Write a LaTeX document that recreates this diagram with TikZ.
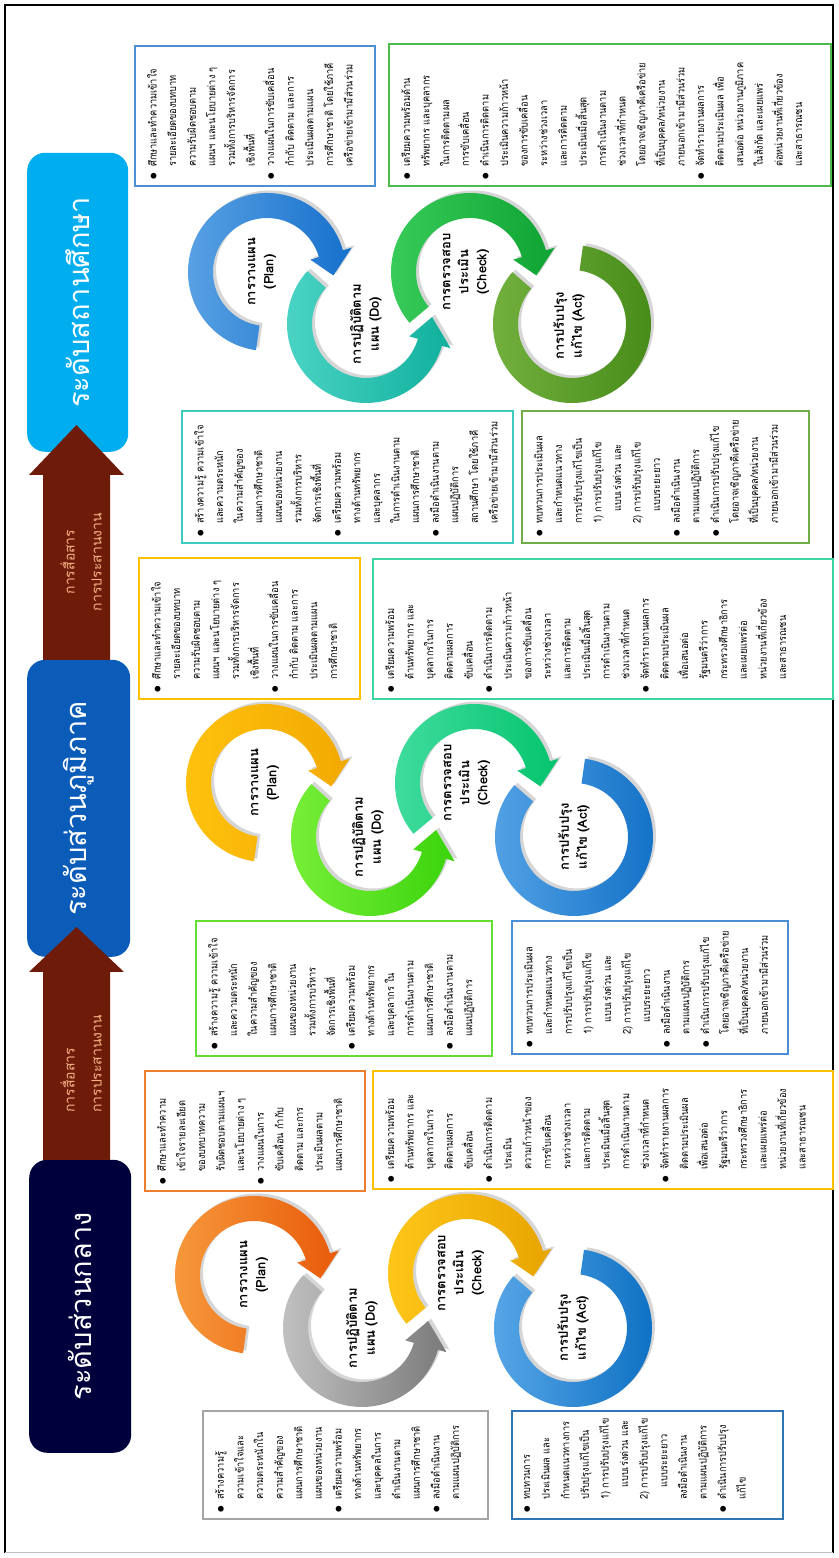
\documentclass[tikz,border=0pt]{standalone}
\usepackage{fontspec}
\setmainfont{Liberation Sans}
\newfontfamily\thai[Script=Thai]{Loma}
\newfontfamily\thainarrow[Script=Thai,FakeStretch=0.88]{Loma}
\newfontfamily\dejavu{DejaVu Sans}
\definecolor{navyH}{HTML}{00003D}
\definecolor{blueH}{HTML}{0B5CB8}
\definecolor{skyH}{HTML}{00AEEF}
\definecolor{maroonA}{HTML}{6E1B09}
\definecolor{peach}{HTML}{F4B183}
\definecolor{bGray}{HTML}{A5A5A5}
\definecolor{bBlue}{HTML}{2E75B6}
\definecolor{bOrange}{HTML}{ED7D31}
\definecolor{bGold}{HTML}{FFC000}
\definecolor{bLime}{HTML}{66DD33}
\definecolor{bBlueB}{HTML}{4A8FD6}
\definecolor{bMint}{HTML}{3DD6A0}
\definecolor{bTeal}{HTML}{3CCBBE}
\definecolor{bGreen}{HTML}{70AD47}
\definecolor{bBlueC}{HTML}{4A90D2}
\definecolor{bGreenB}{HTML}{4CBB4C}
\tikzset{
  box/.style={draw=#1, line width=1.6pt, fill=white, inner sep=0pt, anchor=north west},
  btxt/.style={anchor=north west, align=left, inner sep=0pt, font=\thainarrow\fontsize{10.5}{19.6}\selectfont},
  ringlbl/.style={align=center, inner sep=0pt, font=\thai\bfseries\fontsize{13}{18}\selectfont},
  hdr/.style={rounded corners=18pt, inner sep=0pt, anchor=north west},
  hdrtxt/.style={text=white, inner sep=0pt, font=\thai\fontsize{29}{32}\selectfont},
  arrtxt/.style={text=peach, inner sep=0pt, font=\thai\fontsize{14}{27}\selectfont},
  arrbody/.style={fill=maroonA}
}
\newcommand\bul{\makebox[13pt][l]{\raisebox{1pt}{\dejavu\fontsize{7.5}{8}\selectfont ●}}}
\newcommand\ind{\hspace*{13pt}}
\newcommand\indd{\hspace*{25pt}}
% ring with arrow head: cx, cy, start, band end, tip
\newcommand\rapath[5]{([shift={(#1,-#2)}]#3:79pt) arc[start angle=#3, end angle=#4, radius=79pt]
 -- ([shift={(#1,-#2)}]#4:88pt) -- ([shift={(#1,-#2)}]#5:66.5pt)
 -- ([shift={(#1,-#2)}]#4:45pt) -- ([shift={(#1,-#2)}]#4:54pt)
 arc[start angle=#4, end angle=#3, radius=54pt] -- cycle}
\newcommand\ringarrow[7]{%
 \definecolor{rcA}{HTML}{#6}\definecolor{rcB}{HTML}{#7}%
 \fill[black, opacity=.16, shift={(2.5,-3)}] \rapath{#1}{#2}{#3}{#4}{#5};
 \shade[left color=rcA, right color=rcB] \rapath{#1}{#2}{#3}{#4}{#5};}
\newcommand\rbpath[4]{([shift={(#1,-#2)}]#3:79pt) arc[start angle=#3, end angle=#4, radius=79pt]
 -- ([shift={(#1,-#2)}]#4:54pt) arc[start angle=#4, end angle=#3, radius=54pt] -- cycle}
\newcommand\ringplain[6]{%
 \definecolor{rcA}{HTML}{#5}\definecolor{rcB}{HTML}{#6}%
 \fill[black, opacity=.16, shift={(2.5,-3)}] \rbpath{#1}{#2}{#3}{#4};
 \shade[left color=rcA, right color=rcB] \rbpath{#1}{#2}{#3}{#4};}
\begin{document}
\begin{tikzpicture}[x=1pt,y=1pt]
\begin{scope}[rotate=90, transform shape]
\useasboundingbox (0,0) rectangle (1558,-838);
\fill[white] (0,0) rectangle (1558,-838);
% frame
\draw[line width=1.5pt] (5,-5) -- (1553,-5) -- (1553,-833) -- (5,-833);
\draw[line width=1pt, black!25] (5,-5) -- (5,-833);

% headers
\node[hdr, fill=navyH, minimum width=293pt, minimum height=102pt] (h1) at (105,-29) {};
\node[hdrtxt] (h1t) at (h1.center) {ระดับส่วนกลาง};
\node[hdr, fill=blueH, minimum width=297pt, minimum height=103pt] (h2) at (601,-27) {};
\node[hdrtxt] (h2t) at (h2.center) {ระดับส่วนภูมิภาค};
\node[hdr, fill=skyH, minimum width=299pt, minimum height=101pt] (h3) at (1106,-27) {};
\node[hdrtxt] (h3t) at (h3.center) {ระดับสถานศึกษา};

% block arrows
\fill[arrbody] (398,-43) -- (586,-43) -- (586,-29) -- (631,-76.5) -- (586,-124) -- (586,-110) -- (398,-110) -- cycle;
\node[arrtxt, align=left, anchor=west] (a1t) at (445,-81) {การสื่อสาร\\การประสานงาน};
\fill[arrbody] (898,-43) -- (1083,-43) -- (1083,-29) -- (1133,-76.5) -- (1083,-124) -- (1083,-110) -- (898,-110) -- cycle;
\node[arrtxt, align=center] (a2t) at (996,-81) {การสื่อสาร\\การประสานงาน};

% ---------- left section rings
\ringplain{230}{573}{49}{352}{5AA8E8}{0B6FC2}
\ringarrow{285}{467}{130}{-74}{-93}{FFC81A}{E8A400}
\ringarrow{230}{362}{48}{254}{276}{C4C4C4}{7A7A7A}
\ringarrow{283}{254}{172}{-74}{-93}{F79A3C}{E85A0A}
\node[ringlbl] (l1) at (283,-254) {การวางแผน\\(Plan)};
\node[ringlbl] (l2) at (230,-362) {การปฏิบัติตาม\\แผน (Do)};
\node[ringlbl] (l3) at (285,-461) {การตรวจสอบ\\ประเมิน\\(Check)};
\node[ringlbl] (l4) at (230,-573) {การปรับปรุง\\แก้ไข (Act)};

% ---------- middle section rings
\ringplain{721}{574}{49}{352}{55A3E6}{1170C6}
\ringarrow{775}{474}{130}{-74}{-93}{42DDA0}{05C46E}
\ringarrow{721}{370}{48}{254}{276}{7AF03A}{3AD40C}
\ringarrow{775}{265}{172}{-74}{-93}{FFC20E}{F2A900}
\node[ringlbl] (m1) at (775,-265) {การวางแผน\\(Plan)};
\node[ringlbl] (m2) at (721,-368) {การปฏิบัติตาม\\แผน (Do)};
\node[ringlbl] (m3) at (775,-467) {การตรวจสอบ\\ประเมิน\\(Check)};
\node[ringlbl] (m4) at (721,-574) {การปรับปรุง\\แก้ไข (Act)};

% ---------- right section rings
\ringplain{1234}{572}{49}{352}{74B23F}{468A18}
\ringarrow{1286}{470}{130}{-74}{-93}{3ACD5C}{0EA332}
\ringarrow{1234}{366}{48}{254}{276}{4DD5C6}{10B09D}
\ringarrow{1286}{267}{172}{-74}{-93}{5AA2E4}{1670CC}
\node[ringlbl] (r1) at (1286,-262) {การวางแผน\\(Plan)};
\node[ringlbl] (r2) at (1234,-366) {การปฏิบัติตาม\\แผน (Do)};
\node[ringlbl] (r3) at (1286,-466) {การตรวจสอบ\\ประเมิน\\(Check)};
\node[ringlbl] (r4) at (1232,-569) {การปรับปรุง\\แก้ไข (Act)};

% ---------- boxes, left section
\node[box=bGray, minimum width=108pt, minimum height=285pt] (b1) at (38,-202) {};
\node[btxt] (t1) at (45,-215) {\bul สร้างความรู้\\
\ind ความเข้าใจและ\\
\ind ความตระหนักใน\\
\ind ความสำคัญของ\\
\ind แผนการศึกษาชาติ\\
\ind แผนของหน่วยงาน\\
\bul เตรียมความพร้อม\\
\ind ทางด้านทรัพยากร\\
\ind และบุคคลในการ\\
\ind ดำเนินงานตาม\\
\ind แผนการศึกษาชาติ\\
\bul ลงมือดำเนินงาน\\
\ind ตามแผนปฏิบัติการ};

\node[box=bBlue, minimum width=108pt, minimum height=271pt] (b2) at (38,-511) {};
\node[btxt] (t2) at (45,-524) {\bul ทบทวนการ\\
\ind ประเมินผล และ\\
\ind กำหนดแนวทางการ\\
\ind ปรับปรุงแก้ไขเป็น\\
\ind 1) การปรับปรุงแก้ไข\\
\indd แบบเร่งด่วน และ\\
\ind 2) การปรับปรุงแก้ไข\\
\indd แบบระยะยาว\\
\ind ลงมือดำเนินงาน\\
\ind ตามแผนปฏิบัติการ\\
\bul ดำเนินการปรับปรุง\\
\ind แก้ไข};

\node[box=bOrange, minimum width=120pt, minimum height=220pt] (b3) at (366,-144) {};
\node[btxt] (t3) at (373,-157) {\bul ศึกษาและทำความ\\
\ind เข้าใจรายละเอียด\\
\ind ของบทบาทความ\\
\ind รับผิดชอบตามแผนฯ\\
\ind และนโยบายต่าง ๆ\\
\bul วางแผนในการ\\
\ind ขับเคลื่อน กำกับ\\
\ind ติดตาม และการ\\
\ind ประเมินผลตาม\\
\ind แผนการศึกษาชาติ};

\node[box=bGold, minimum width=118pt, minimum height=460pt] (b4) at (368,-372) {};
\node[btxt] (t4) at (375,-385) {\bul เตรียมความพร้อม\\
\ind ด้านทรัพยากร และ\\
\ind บุคลากรในการ\\
\ind ติดตามผลการ\\
\ind ขับเคลื่อน\\
\bul ดำเนินการติดตาม\\
\ind ประเมิน\\
\ind ความก้าวหน้าของ\\
\ind การขับเคลื่อน\\
\ind ระหว่างช่วงเวลา\\
\ind และการติดตาม\\
\ind ประเมินเมื่อสิ้นสุด\\
\ind การดำเนินงานตาม\\
\ind ช่วงเวลาที่กำหนด\\
\bul จัดทำรายงานผลการ\\
\ind ติดตามประเมินผล\\
\ind เพื่อเสนอต่อ\\
\ind รัฐมนตรีว่าการ\\
\ind กระทรวงศึกษาธิการ\\
\ind และเผยแพร่ต่อ\\
\ind หน่วยงานที่เกี่ยวข้อง\\
\ind และสาธารณชน};

% ---------- boxes, middle section
\node[box=bLime, minimum width=135pt, minimum height=296pt] (b5) at (501,-195) {};
\node[btxt] (t5) at (508,-208) {\bul สร้างความรู้ ความเข้าใจ\\
\ind และความตระหนัก\\
\ind ในความสำคัญของ\\
\ind แผนการศึกษาชาติ\\
\ind แผนของหน่วยงาน\\
\ind รวมทั้งการบริหาร\\
\ind จัดการเชิงพื้นที่\\
\bul เตรียมความพร้อม\\
\ind ทางด้านทรัพยากร\\
\ind และบุคลากร ใน\\
\ind การดำเนินงานตาม\\
\ind แผนการศึกษาชาติ\\
\bul ลงมือดำเนินงานตาม\\
\ind แผนปฏิบัติการ};

\node[box=bBlueB, minimum width=133pt, minimum height=276pt] (b6) at (503,-511) {};
\node[btxt] (t6) at (510,-524) {\bul ทบทวนการประเมินผล\\
\ind และกำหนดแนวทาง\\
\ind การปรับปรุงแก้ไขเป็น\\
\ind 1) การปรับปรุงแก้ไข\\
\indd แบบเร่งด่วน และ\\
\ind 2) การปรับปรุงแก้ไข\\
\indd แบบระยะยาว\\
\bul ลงมือดำเนินงาน\\
\ind ตามแผนปฏิบัติการ\\
\bul ดำเนินการปรับปรุงแก้ไข\\
\ind โดยอาจเชิญภาคีเครือข่าย\\
\ind ที่เป็นบุคคล/หน่วยงาน\\
\ind ภายนอกเข้ามามีส่วนร่วม};

\node[box=bGold, minimum width=141pt, minimum height=221pt] (b7) at (858,-138) {};
\node[btxt] (t7) at (865,-151) {\bul ศึกษาและทำความเข้าใจ\\
\ind รายละเอียดของบทบาท\\
\ind ความรับผิดชอบตาม\\
\ind แผนฯ และนโยบายต่าง ๆ\\
\ind รวมทั้งการบริหารจัดการ\\
\ind เชิงพื้นที่\\
\bul วางแผนในการขับเคลื่อน\\
\ind กำกับ ติดตาม และการ\\
\ind ประเมินผลตามแผน\\
\ind การศึกษาชาติ};

\node[box=bMint, minimum width=140pt, minimum height=460pt] (b8) at (858,-372) {};
\node[btxt] (t8) at (865,-385) {\bul เตรียมความพร้อม\\
\ind ด้านทรัพยากร และ\\
\ind บุคลากรในการ\\
\ind ติดตามผลการ\\
\ind ขับเคลื่อน\\
\bul ดำเนินการติดตาม\\
\ind ประเมินความก้าวหน้า\\
\ind ของการขับเคลื่อน\\
\ind ระหว่างช่วงเวลา\\
\ind และการติดตาม\\
\ind ประเมินเมื่อสิ้นสุด\\
\ind การดำเนินงานตาม\\
\ind ช่วงเวลาที่กำหนด\\
\bul จัดทำรายงานผลการ\\
\ind ติดตามประเมินผล\\
\ind เพื่อเสนอต่อ\\
\ind รัฐมนตรีว่าการ\\
\ind กระทรวงศึกษาธิการ\\
\ind และเผยแพร่ต่อ\\
\ind หน่วยงานที่เกี่ยวข้อง\\
\ind และสาธารณชน};

% ---------- boxes, right section
\node[box=bTeal, minimum width=132pt, minimum height=331pt] (b9) at (1014,-181) {};
\node[btxt] (t9) at (1021,-194) {\bul สร้างความรู้ ความเข้าใจ\\
\ind และความตระหนัก\\
\ind ในความสำคัญของ\\
\ind แผนการศึกษาชาติ\\
\ind แผนของหน่วยงาน\\
\ind รวมทั้งการบริหาร\\
\ind จัดการเชิงพื้นที่\\
\bul เตรียมความพร้อม\\
\ind ทางด้านทรัพยากร\\
\ind และบุคลากร\\
\ind ในการดำเนินงานตาม\\
\ind แผนการศึกษาชาติ\\
\bul ลงมือดำเนินงานตาม\\
\ind แผนปฏิบัติการ\\
\ind สถานศึกษา โดยใช้ภาคี\\
\ind เครือข่ายเข้ามามีส่วนร่วม};

\node[box=bGreen, minimum width=132pt, minimum height=287pt] (b10) at (1014,-521) {};
\node[btxt] (t10) at (1021,-534) {\bul ทบทวนการประเมินผล\\
\ind และกำหนดแนวทาง\\
\ind การปรับปรุงแก้ไขเป็น\\
\ind 1) การปรับปรุงแก้ไข\\
\indd แบบเร่งด่วน และ\\
\ind 2) การปรับปรุงแก้ไข\\
\indd แบบระยะยาว\\
\bul ลงมือดำเนินงาน\\
\ind ตามแผนปฏิบัติการ\\
\bul ดำเนินการปรับปรุงแก้ไข\\
\ind โดยอาจเชิญภาคีเครือข่าย\\
\ind ที่เป็นบุคคล/หน่วยงาน\\
\ind ภายนอกเข้ามามีส่วนร่วม};

\node[box=bBlueC, minimum width=140pt, minimum height=240pt] (b11) at (1371,-134) {};
\node[btxt] (t11) at (1378,-147) {\bul ศึกษาและทำความเข้าใจ\\
\ind รายละเอียดของบทบาท\\
\ind ความรับผิดชอบตาม\\
\ind แผนฯ และนโยบายต่าง ๆ\\
\ind รวมทั้งการบริหารจัดการ\\
\ind เชิงพื้นที่\\
\bul วางแผนในการขับเคลื่อน\\
\ind กำกับ ติดตาม และการ\\
\ind ประเมินผลตามแผน\\
\ind การศึกษาชาติ โดยใช้ภาคี\\
\ind เครือข่ายเข้ามามีส่วนร่วม};

\node[box=bGreenB, minimum width=142pt, minimum height=442pt] (b12) at (1371,-388) {};
\node[btxt] (t12) at (1378,-401) {\bul เตรียมความพร้อมด้าน\\
\ind ทรัพยากร และบุคลากร\\
\ind ในการติดตามผล\\
\ind การขับเคลื่อน\\
\bul ดำเนินการติดตาม\\
\ind ประเมินความก้าวหน้า\\
\ind ของการขับเคลื่อน\\
\ind ระหว่างช่วงเวลา\\
\ind และการติดตาม\\
\ind ประเมินเมื่อสิ้นสุด\\
\ind การดำเนินงานตาม\\
\ind ช่วงเวลาที่กำหนด\\
\ind โดยอาจเชิญภาคีเครือข่าย\\
\ind ที่เป็นบุคคล/หน่วยงาน\\
\ind ภายนอกเข้ามามีส่วนร่วม\\
\bul จัดทำรายงานผลการ\\
\ind ติดตามประเมินผล เพื่อ\\
\ind เสนอต่อ หน่วยงานภูมิภาค\\
\ind ในสังกัด และเผยแพร่\\
\ind ต่อหน่วยงานที่เกี่ยวข้อง\\
\ind และสาธารณชน};
\end{scope}
\end{tikzpicture}
\end{document}
